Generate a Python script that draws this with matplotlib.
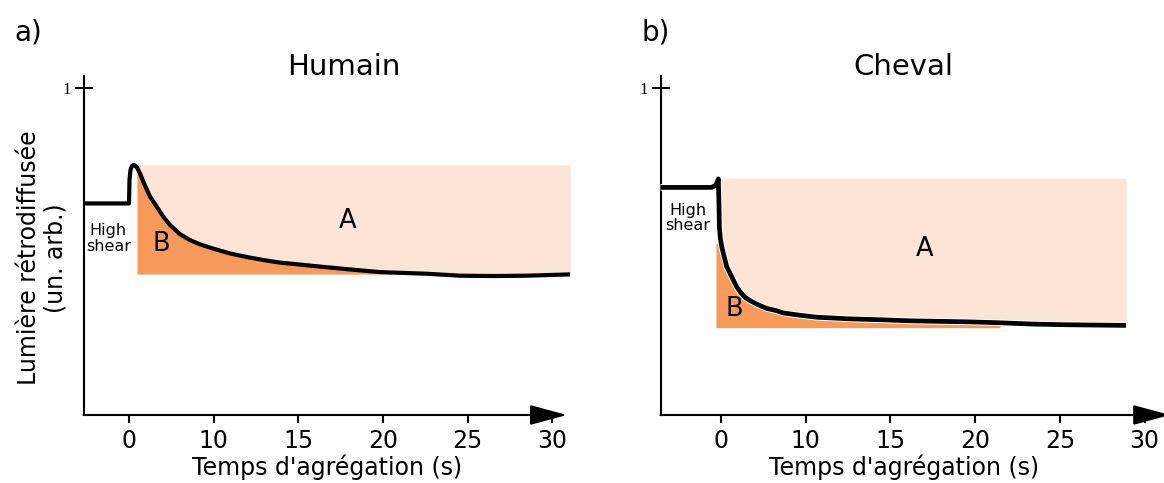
import matplotlib
matplotlib.use("Agg")
import matplotlib.pyplot as plt
import matplotlib.patheffects as pe
import numpy as np

plt.rcParams['font.family'] = ['DejaVu Sans']

# ---------------- data ----------------
tick_pos = [5, 10, 15, 20, 25, 30]
tick_labels = ['0', '10', '15', '20', '25', '30']

# Panel a (Humain): curve positions along the drawn time axis and backscattered light
humain_t = [2.34, 5.00, 5.03, 5.09, 5.18, 5.30, 5.47, 5.65, 5.84, 6.24, 6.64, 7.03,
            7.42, 8.01, 8.60, 9.19, 9.96, 10.97, 11.97, 13.03, 13.92, 14.92, 15.87,
            17.86, 19.83, 22.58, 24.55, 26.50, 28.49, 31.05]
humain_y = [0.647, 0.647, 0.720, 0.750, 0.762, 0.765, 0.757, 0.739, 0.714, 0.668, 0.637, 0.606,
            0.581, 0.553, 0.535, 0.522, 0.509, 0.494, 0.483, 0.473, 0.466, 0.461, 0.456,
            0.446, 0.437, 0.432, 0.426, 0.425, 0.426, 0.430]
humain_A_top = 0.765
humain_B_bottom = 0.431
humain_fill_start = 5.47

# Panel b (Cheval)
cheval_t = [1.45, 4.47, 4.72, 4.86, 4.90, 4.92, 4.98, 5.06, 5.35, 5.55, 5.74, 5.94, 6.14,
            6.43, 6.73, 7.12, 7.71, 8.30, 8.69, 9.68, 10.66, 12.62, 14.59, 16.16,
            19.50, 21.47, 23.41, 25.40, 28.90]
cheval_y = [0.696, 0.696, 0.703, 0.722, 0.640, 0.576, 0.540, 0.515, 0.454, 0.433, 0.413, 0.392, 0.377,
            0.360, 0.350, 0.339, 0.326, 0.319, 0.312, 0.305, 0.299, 0.294, 0.291, 0.288,
            0.285, 0.282, 0.278, 0.276, 0.274]
cheval_A_top = 0.724
cheval_B_top = 0.525
cheval_B_bottom = 0.267
cheval_A_start = 4.86
cheval_B_start = 4.72
cheval_B_end = 21.47

LIGHT = '#fce4d6'
ORANGE = '#f79a5b'

W, H = 1164, 483
fig = plt.figure(figsize=(W / 100, H / 100), dpi=100)

Y_TOP = 1.037
AX_BOTTOM_PX = 415
PX_PER_Y = 327.0


def make_axes(left_px, tick0_px, px_per_unit, right_px):
    x0 = 5 + (left_px - tick0_px) / px_per_unit
    x1 = 5 + (right_px - tick0_px) / px_per_unit
    height_px = Y_TOP * PX_PER_Y
    ax = fig.add_axes([left_px / W, (H - AX_BOTTOM_PX) / H,
                       (right_px - left_px) / W, height_px / H])
    ax.set_xlim(x0, x1)
    ax.set_ylim(0, Y_TOP)
    ax.patch.set_alpha(0)
    for s in ['top', 'right', 'bottom']:
        ax.spines[s].set_visible(False)
    ax.spines['left'].set_linewidth(1.5)
    ax.set_xticks(tick_pos, tick_labels)
    ax.tick_params(axis='x', direction='out', length=6, width=1.5,
                   labelsize=17, pad=4)
    ax.set_yticks([1], ['1'])
    ax.tick_params(axis='y', direction='inout', length=12.5, width=1.5,
                   labelsize=12, pad=2.5)
    for lab in ax.get_yticklabels():
        lab.set_fontfamily('Liberation Serif')
    return ax, x0, x1


def draw_arrow(ax, x0, tip):
    ax.annotate('', xy=(tip, 0), xytext=(x0, 0), annotation_clip=False,
                arrowprops=dict(arrowstyle='-|>,head_length=2.3,head_width=0.62',
                                mutation_scale=10, lw=1.5, color='black',
                                shrinkA=0, shrinkB=0))


# ---------------- panel a ----------------
axa, a0, a1 = make_axes(83.5, 129.0, 16.93, 572.6)
ta = np.array(humain_t)
ya = np.array(humain_y)
axa.fill_between(ta, ya, humain_A_top, where=ta >= humain_fill_start,
                 color=LIGHT, lw=0, zorder=1)
axa.fill_between(ta, humain_B_bottom, ya,
                 where=(ta >= humain_fill_start) & (ya >= humain_B_bottom),
                 interpolate=True, color=ORANGE, lw=0, zorder=2)
axa.plot(ta, ya, color='black', lw=3.0, solid_capstyle='butt',
         solid_joinstyle='round', zorder=4, clip_on=False)
draw_arrow(axa, a0, 30.87)
axa.text(17.94, 0.593, 'A', fontsize=18.5, ha='center', va='center')
axa.text(6.89, 0.523, 'B', fontsize=18.5, ha='center', va='center')
axa.text(3.78, 0.540, 'High\nshear', fontsize=11.5, ha='center', va='center',
         linespacing=1.05)

# ---------------- panel b ----------------
axb, b0, b1 = make_axes(660.5, 720.7, 16.96, 1163.4)
tb = np.array(cheval_t)
yb = np.array(cheval_y)
axb.fill_between(tb, yb, cheval_A_top, where=tb >= cheval_A_start,
                 color=LIGHT, lw=0, zorder=1)
axb.fill_between(tb, cheval_B_bottom, np.minimum(yb, cheval_B_top),
                 where=(tb >= cheval_B_start) & (tb <= cheval_B_end),
                 color=ORANGE, lw=0, zorder=2)
axb.plot(tb, yb, color='black', lw=3.4, solid_capstyle='butt',
         solid_joinstyle='round', zorder=4, clip_on=False,
         path_effects=[pe.Stroke(linewidth=4.8, foreground='white'), pe.Normal()])
draw_arrow(axb, b0, 31.5)
axb.text(17.0, 0.507, 'A', fontsize=18.5, ha='center', va='center')
axb.text(5.80, 0.323, 'B', fontsize=18.5, ha='center', va='center')
axb.text(3.05, 0.602, 'High\nshear', fontsize=11.5, ha='center', va='center',
         linespacing=1.05)

# ---------------- figure texts ----------------
fig.text(28.7 / W, 1 - 32 / H, 'a)', fontsize=20, ha='center', va='center')
fig.text(655.8 / W, 1 - 32 / H, 'b)', fontsize=20, ha='center', va='center')
fig.text(343.7 / W, 1 - 67 / H, 'Humain', fontsize=21, ha='center', va='center')
fig.text(903.2 / W, 1 - 67 / H, 'Cheval', fontsize=21, ha='center', va='center')
fig.text(327.2 / W, 1 - 475 / H, "Temps d'agrégation (s)", fontsize=17,
         ha='center', va='baseline')
fig.text(903.8 / W, 1 - 475 / H, "Temps d'agrégation (s)", fontsize=17,
         ha='center', va='baseline')
fig.text(28.7 / W, 1 - 258 / H, 'Lumière rétrodiffusée', fontsize=17,
         rotation=90, ha='center', va='center')
fig.text(55.5 / W, 1 - 258 / H, '(un. arb.)', fontsize=17,
         rotation=90, ha='center', va='center')

fig.savefig('out.png', dpi=100, facecolor='white')
